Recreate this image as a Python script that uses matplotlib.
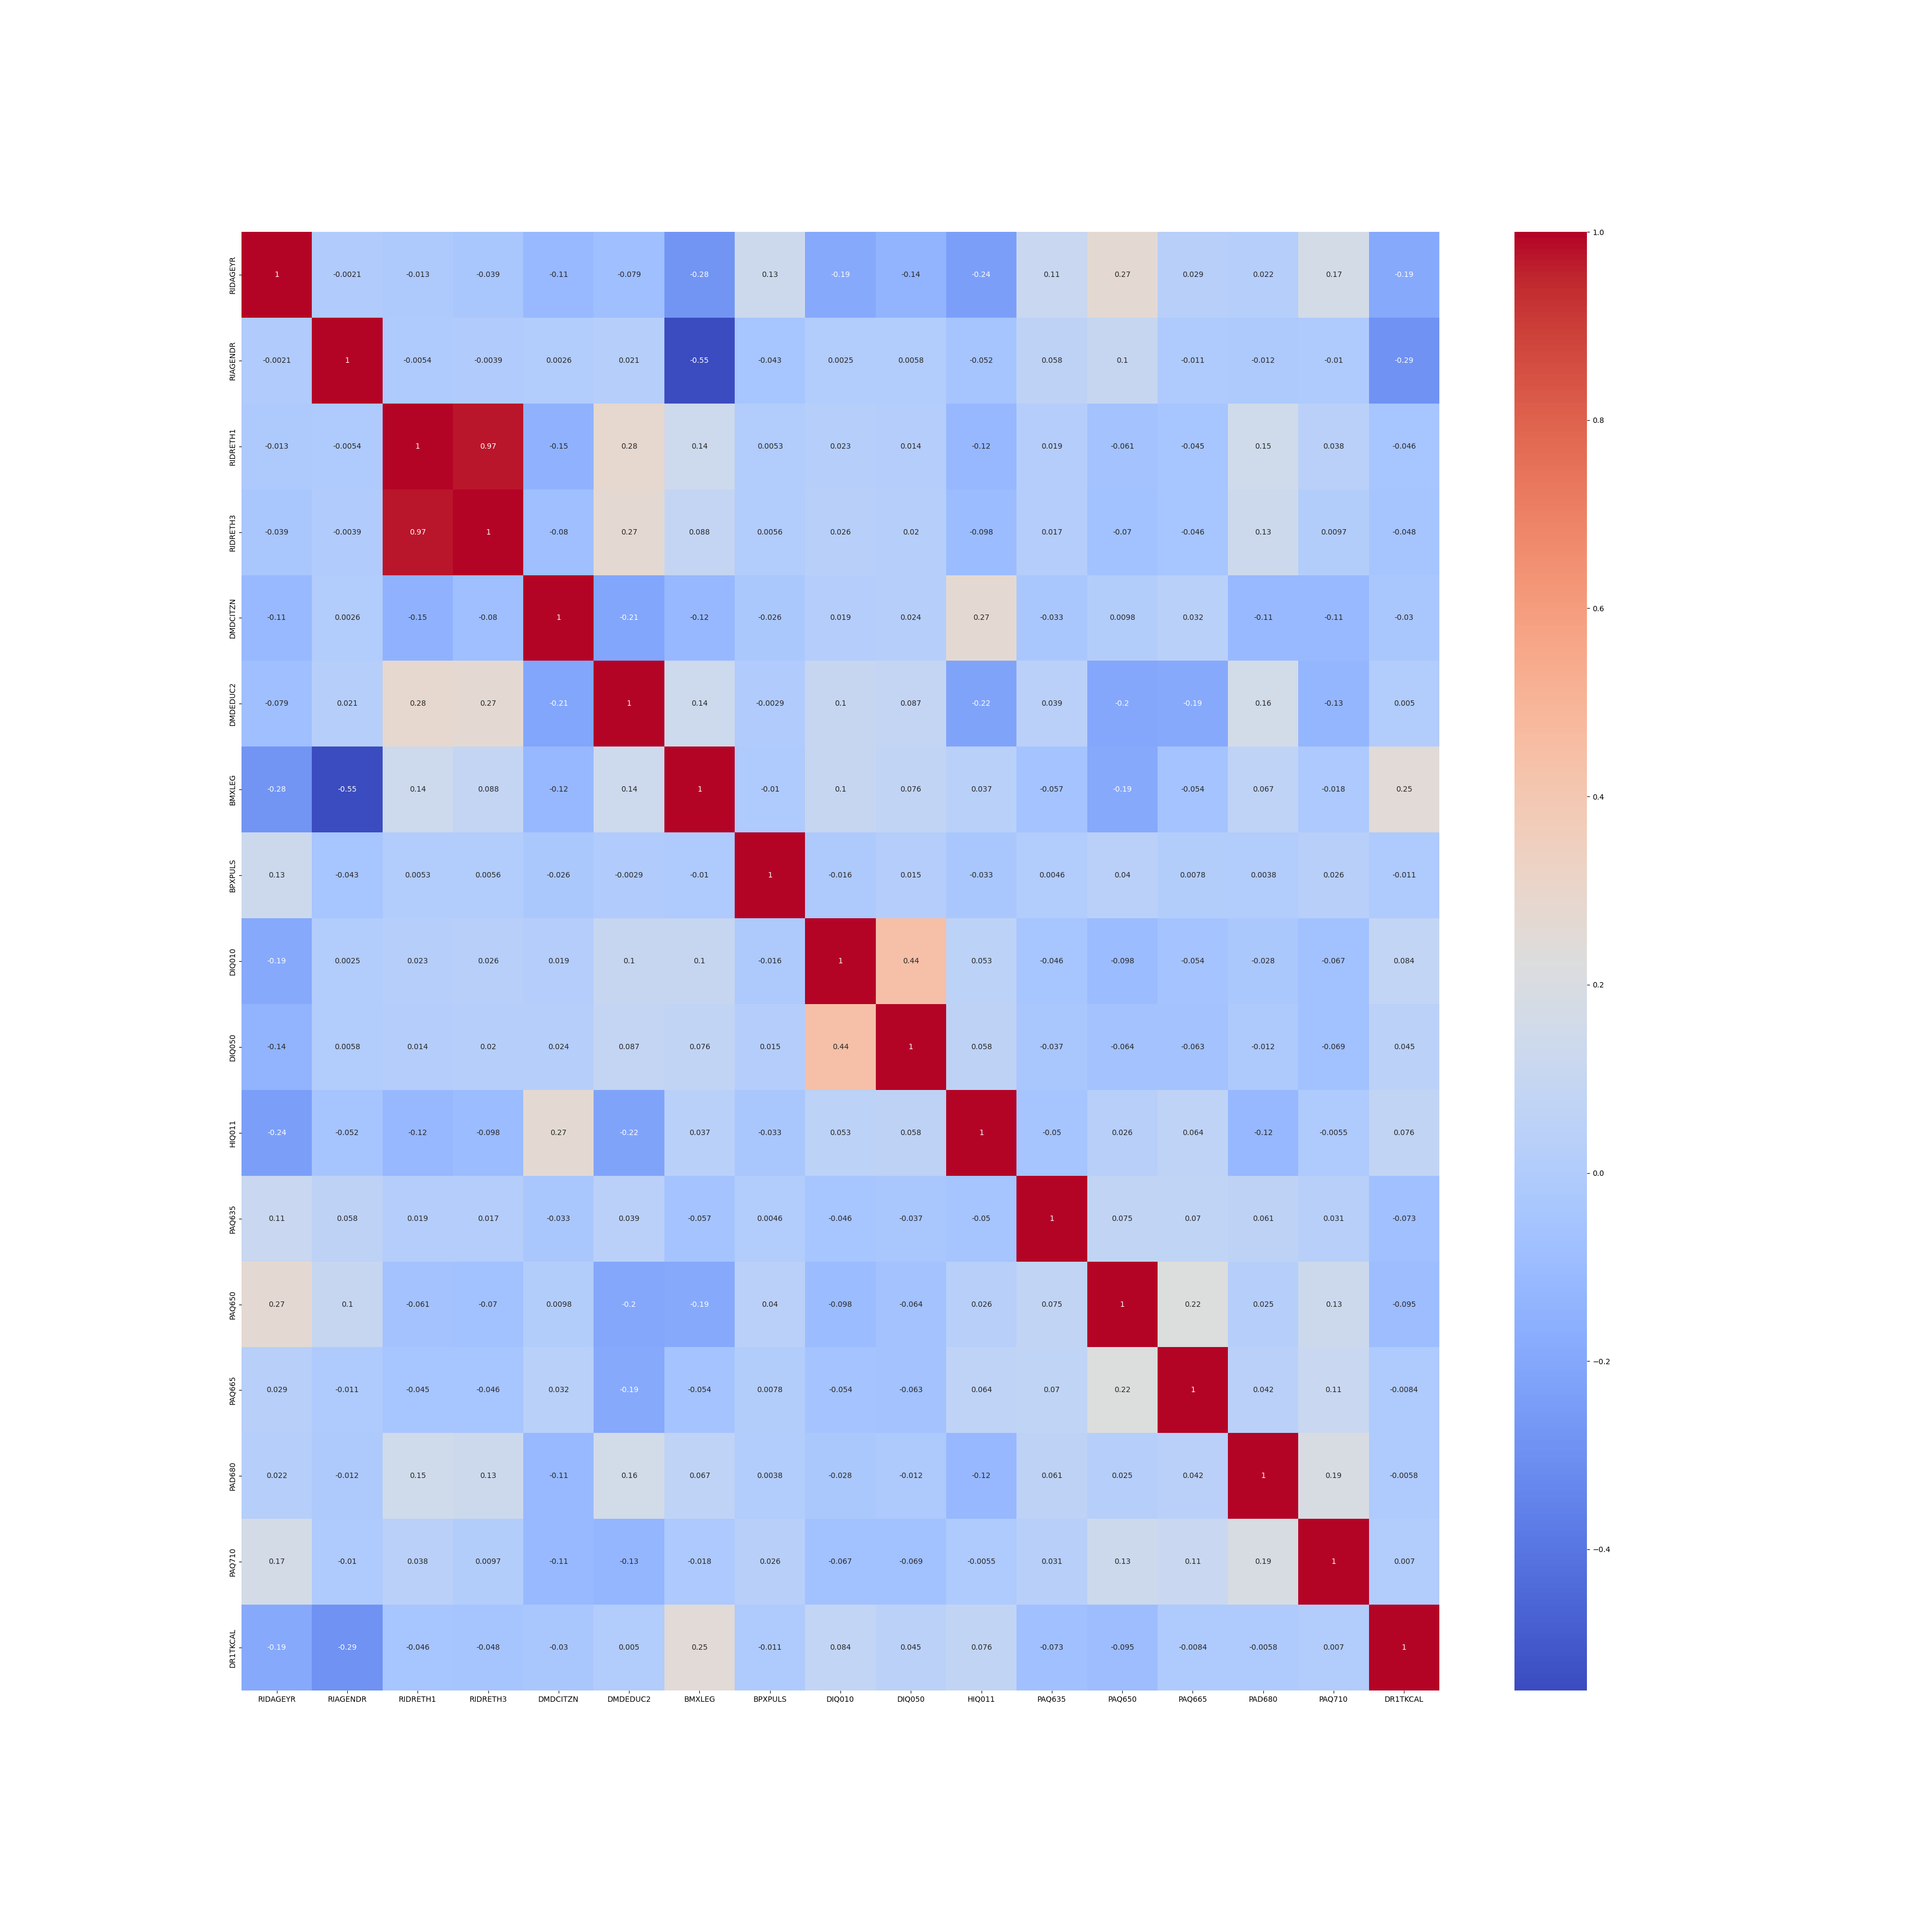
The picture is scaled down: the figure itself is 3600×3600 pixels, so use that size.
import matplotlib
matplotlib.use("Agg")
import matplotlib.pyplot as plt
import numpy as np
import pandas as pd
import seaborn as sns


columns = ["RIDAGEYR", "RIAGENDR", "RIDRETH1", "RIDRETH3", "DMDCITZN", "DMDEDUC2",
           "BMXLEG", "BPXPULS", "DIQ010", "DIQ050", "HIQ011", "PAQ635", "PAQ650",
           "PAQ665", "PAD680", "PAQ710", "DR1TKCAL"]

# correlation rows
ridageyr = [1, -0.0021, -0.013, -0.039, -0.11, -0.079, -0.28, 0.13, -0.19, -0.14, -0.24, 0.11, 0.27, 0.029, 0.022, 0.17, -0.19]
riagendr = [-0.0021, 1, -0.0054, -0.0039, 0.0026, 0.021, -0.55, -0.043, 0.0025, 0.0058, -0.052, 0.058, 0.1, -0.011, -0.012, -0.01, -0.29]
ridreth1 = [-0.013, -0.0054, 1, 0.97, -0.15, 0.28, 0.14, 0.0053, 0.023, 0.014, -0.12, 0.019, -0.061, -0.045, 0.15, 0.038, -0.046]
ridreth3 = [-0.039, -0.0039, 0.97, 1, -0.08, 0.27, 0.088, 0.0056, 0.026, 0.02, -0.098, 0.017, -0.07, -0.046, 0.13, 0.0097, -0.048]
dmdcitzn = [-0.11, 0.0026, -0.15, -0.08, 1, -0.21, -0.12, -0.026, 0.019, 0.024, 0.27, -0.033, 0.0098, 0.032, -0.11, -0.11, -0.03]
dmdeduc2 = [-0.079, 0.021, 0.28, 0.27, -0.21, 1, 0.14, -0.0029, 0.1, 0.087, -0.22, 0.039, -0.2, -0.19, 0.16, -0.13, 0.005]
bmxleg = [-0.28, -0.55, 0.14, 0.088, -0.12, 0.14, 1, -0.01, 0.1, 0.076, 0.037, -0.057, -0.19, -0.054, 0.067, -0.018, 0.25]
bpxpuls = [0.13, -0.043, 0.0053, 0.0056, -0.026, -0.0029, -0.01, 1, -0.016, 0.015, -0.033, 0.0046, 0.04, 0.0078, 0.0038, 0.026, -0.011]
diq010 = [-0.19, 0.0025, 0.023, 0.026, 0.019, 0.1, 0.1, -0.016, 1, 0.44, 0.053, -0.046, -0.098, -0.054, -0.028, -0.067, 0.084]
diq050 = [-0.14, 0.0058, 0.014, 0.02, 0.024, 0.087, 0.076, 0.015, 0.44, 1, 0.058, -0.037, -0.064, -0.063, -0.012, -0.069, 0.045]
hiq011 = [-0.24, -0.052, -0.12, -0.098, 0.27, -0.22, 0.037, -0.033, 0.053, 0.058, 1, -0.05, 0.026, 0.064, -0.12, -0.0055, 0.076]
paq635 = [0.11, 0.058, 0.019, 0.017, -0.033, 0.039, -0.057, 0.0046, -0.046, -0.037, -0.05, 1, 0.075, 0.07, 0.061, 0.031, -0.073]
paq650 = [0.27, 0.1, -0.061, -0.07, 0.0098, -0.2, -0.19, 0.04, -0.098, -0.064, 0.026, 0.075, 1, 0.22, 0.025, 0.13, -0.095]
paq665 = [0.029, -0.011, -0.045, -0.046, 0.032, -0.19, -0.054, 0.0078, -0.054, -0.063, 0.064, 0.07, 0.22, 1, 0.042, 0.11, -0.0084]
pad680 = [0.022, -0.012, 0.15, 0.13, -0.11, 0.16, 0.067, 0.0038, -0.028, -0.012, -0.12, 0.061, 0.025, 0.042, 1, 0.19, -0.0058]
paq710 = [0.17, -0.01, 0.038, 0.0097, -0.11, -0.13, -0.018, 0.026, -0.067, -0.069, -0.0055, 0.031, 0.13, 0.11, 0.19, 1, 0.007]
dr1tkcal = [-0.19, -0.29, -0.046, -0.048, -0.03, 0.005, 0.25, -0.011, 0.084, 0.045, 0.076, -0.073, -0.095, -0.0084, -0.0058, 0.007, 1]

rows = [ridageyr, riagendr, ridreth1, ridreth3, dmdcitzn, dmdeduc2, bmxleg, bpxpuls,
        diq010, diq050, hiq011, paq635, paq650, paq665, pad680, paq710, dr1tkcal]
corr = pd.DataFrame(np.array(rows), index=columns, columns=columns)

fig, ax = plt.subplots(figsize=(36, 36))
fig.subplots_adjust(bottom=0.125)
sns.heatmap(corr, annot=True, cmap="coolwarm", ax=ax)
fig.savefig("out.png", dpi=100)
